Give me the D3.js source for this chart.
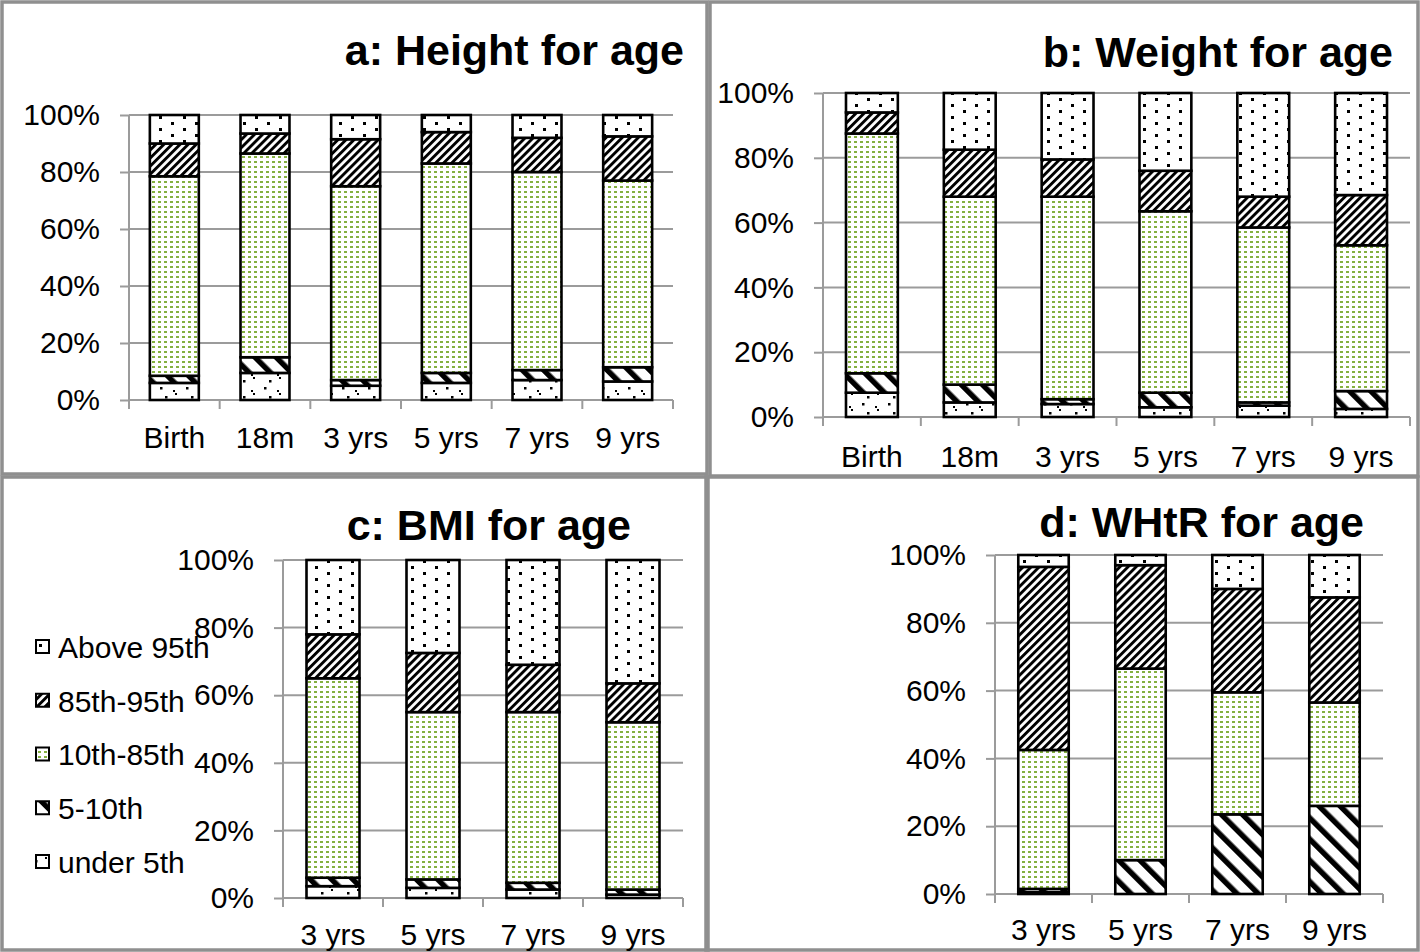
<!DOCTYPE html>
<html><head><meta charset="utf-8">
<script src="https://cdn.jsdelivr.net/npm/d3@7"></script>
<style>body{margin:0;background:#fff}svg{display:block}text{font-family:"Liberation Sans",Arial,sans-serif;fill:#000}</style>
</head><body><svg id="chart" width="1420" height="952"></svg>
<script>
// ---------- DATA ----------
const seriesNames = ["under 5th","5-10th","10th-85th","85th-95th","Above 95th"];
const legendOrder = ["Above 95th","85th-95th","10th-85th","5-10th","under 5th"];
const catsAB = ["Birth","18m","3 yrs","5 yrs","7 yrs","9 yrs"];
const catsCD = ["3 yrs","5 yrs","7 yrs","9 yrs"];
const yTickValues = [0,20,40,60,80,100];

// a: Height for age (% of children in each band, bottom to top)
const heightUnder5  = [6, 9.5, 5, 6, 7, 6.5];
const height5to10   = [2.5, 5.5, 2, 3.5, 3.5, 5];
const height10to85  = [70, 71.5, 68, 73.5, 69.5, 65.5];
const height85to95  = [11.5, 7, 16.5, 11, 12, 15.5];
const heightAbove95 = [10, 6.5, 8.5, 6, 8, 7.5];

// b: Weight for age
const weightUnder5  = [7.5, 4.5, 4, 3, 3.5, 2.5];
const weight5to10   = [6, 5.5, 1.5, 4.5, 1, 5.5];
const weight10to85  = [74, 58, 62.5, 56, 54, 45];
const weight85to95  = [6.5, 14.5, 11.5, 12.5, 9.5, 15.5];
const weightAbove95 = [6, 17.5, 20.5, 24, 32, 31.5];

// c: BMI for age
const bmiUnder5  = [3.5, 3, 2.5, 1];
const bmi5to10   = [2.5, 2.5, 2, 1.5];
const bmi10to85  = [59, 49.5, 50.5, 49.5];
const bmi85to95  = [13, 17.5, 14, 11.5];
const bmiAbove95 = [22, 27.5, 31, 36.5];

// d: WHtR for age
const whtrUnder5  = [0.5, 0, 0, 0];
const whtr5to10   = [1, 10, 23.5, 26];
const whtr10to85  = [41, 56.5, 36, 30.5];
const whtr85to95  = [54, 30.5, 30.5, 31];
const whtrAbove95 = [3.5, 3, 10, 12.5];

// ---------- DRAWING ----------
const svg = d3.select("#chart");
const defs = svg.append("defs");
const patId = {"under 5th":"pU5","5-10th":"p510","10th-85th":"p1085","85th-95th":"p8595","Above 95th":"pA95"};

// Above 95th: sparse black dots
let p = defs.append("pattern").attr("id","pA95").attr("patternUnits","userSpaceOnUse").attr("width",24).attr("height",12);
p.append("rect").attr("width",24).attr("height",12).attr("fill","#fff");
p.append("rect").attr("x",3).attr("y",2).attr("width",3).attr("height",3).attr("fill","#000");
p.append("rect").attr("x",15).attr("y",8).attr("width",3).attr("height",3).attr("fill","#000");
// 85th-95th: dense "/" hatch
p = defs.append("pattern").attr("id","p8595").attr("patternUnits","userSpaceOnUse").attr("width",5.7).attr("height",10).attr("patternTransform","rotate(45)");
p.append("rect").attr("width",5.7).attr("height",10).attr("fill","#fff");
p.append("rect").attr("width",2.9).attr("height",10).attr("fill","#000");
// 10th-85th: green dots
p = defs.append("pattern").attr("id","p1085").attr("patternUnits","userSpaceOnUse").attr("width",6).attr("height",5);
p.append("rect").attr("width",6).attr("height",5).attr("fill","#fff");
p.append("rect").attr("x",2).attr("y",1).attr("width",3).attr("height",2).attr("fill","#84b040");
// 5-10th: wide "\" stripes
p = defs.append("pattern").attr("id","p510").attr("patternUnits","userSpaceOnUse").attr("width",15).attr("height",20).attr("patternTransform","rotate(-45)");
p.append("rect").attr("width",15).attr("height",20).attr("fill","#fff");
p.append("rect").attr("width",5.5).attr("height",20).attr("fill","#000");
// under 5th: sparse marks
p = defs.append("pattern").attr("id","pU5").attr("patternUnits","userSpaceOnUse").attr("width",26).attr("height",16);
p.append("rect").attr("width",26).attr("height",16).attr("fill","#fff");
p.append("rect").attr("x",4).attr("y",3).attr("width",2.5).attr("height",2.5).attr("fill","#000");
p.append("rect").attr("x",17).attr("y",6).attr("width",2).attr("height",2).attr("fill","#000");
p.append("rect").attr("x",19).attr("y",9).attr("width",2).attr("height",2).attr("fill","#000");
p.append("rect").attr("x",9).attr("y",12).attr("width",2.5).attr("height",2.5).attr("fill","#000");

// panel frames
const frames = [[2,2,707,474],[710,2,1418,476],[2,477,708,950],[706,477,1418,950]];
frames.forEach(f => svg.append("rect").attr("x",f[0]).attr("y",f[1]).attr("width",f[2]-f[0]).attr("height",f[3]-f[1])
  .attr("fill","none").attr("stroke","#8f8f8f").attr("stroke-width",3.5));

const GRID = "#9b9b9b";

function drawPanel(cfg, cats, cols, title) {
  const g = svg.append("g");
  const rows = cats.map((c,i) => {
    const r = {cat:c};
    seriesNames.forEach((s,k) => r[s] = cols[k][i]);
    return r;
  });
  const x = d3.scaleBand().domain(cats).range([cfg.x0, cfg.x1]).paddingInner(cfg.pad).paddingOuter(cfg.pad/2);
  const y = d3.scaleLinear().domain([0,100]).range([cfg.y0, cfg.y1]);

  // gridlines
  g.selectAll("line.grid").data(yTickValues.filter(v=>v>0)).join("line")
    .attr("x1",cfg.x0).attr("x2",cfg.x1).attr("y1",d=>y(d)).attr("y2",d=>y(d))
    .attr("stroke",GRID).attr("stroke-width",2);

  // y axis
  const ya = g.append("g").attr("transform",`translate(${cfg.x0},0)`)
    .call(d3.axisLeft(y).tickValues(yTickValues).tickFormat(d=>d+"%").tickSize(9).tickPadding(20));
  ya.selectAll("line,path").attr("stroke",GRID).attr("stroke-width",2);
  ya.select("path").attr("d",`M0,${cfg.y0}V${cfg.y1}`);
  ya.selectAll("text").attr("font-size",30).attr("font-family","Liberation Sans, Arial, sans-serif").attr("fill","#000");

  // x axis
  const xa = g.append("g").attr("transform",`translate(0,${cfg.y0})`)
    .call(d3.axisBottom(x).tickSize(0).tickPadding(cfg.xpad));
  xa.select("path").attr("stroke",GRID).attr("stroke-width",2).attr("d",`M${cfg.x0},0H${cfg.x1}`);
  xa.selectAll("text").attr("font-size",30).attr("font-family","Liberation Sans, Arial, sans-serif").attr("fill","#000");
  const bounds = cats.map(c => x(c) - x.step()*x.paddingInner()/2).concat([cfg.x1]);
  g.selectAll("line.xt").data(bounds).join("line")
    .attr("x1",d=>d).attr("x2",d=>d).attr("y1",cfg.y0).attr("y2",cfg.y0+9)
    .attr("stroke",GRID).attr("stroke-width",2);

  // stacked bars
  const stack = d3.stack().keys(seriesNames)(rows);
  stack.forEach(layer => {
    g.append("g").selectAll("rect").data(layer.filter(d=>d[1]-d[0]>0)).join("rect")
      .attr("x",d=>x(d.data.cat)).attr("width",x.bandwidth())
      .attr("y",d=>y(d[1])).attr("height",d=>y(d[0])-y(d[1]))
      .attr("fill",`url(#${patId[layer.key]})`)
      .attr("stroke","#000").attr("stroke-width",2.6);
  });

  g.append("text").attr("x",cfg.tx).attr("y",cfg.ty).attr("text-anchor","end")
    .attr("font-size",43).attr("font-weight","bold").text(title);
  return g;
}

drawPanel({x0:129,x1:673,y0:400,y1:115,pad:0.46,xpad:26.5,tx:684,ty:65}, catsAB,
  [heightUnder5,height5to10,height10to85,height85to95,heightAbove95], "a: Height for age");
drawPanel({x0:823,x1:1410,y0:417,y1:93,pad:0.47,xpad:28.5,tx:1393,ty:67}, catsAB,
  [weightUnder5,weight5to10,weight10to85,weight85to95,weightAbove95], "b: Weight for age");
drawPanel({x0:283,x1:683,y0:898,y1:560,pad:0.47,xpad:25.5,tx:631,ty:540}, catsCD,
  [bmiUnder5,bmi5to10,bmi10to85,bmi85to95,bmiAbove95], "c: BMI for age");
drawPanel({x0:995,x1:1383,y0:894,y1:555,pad:0.48,xpad:24.5,tx:1364,ty:537}, catsCD,
  [whtrUnder5,whtr5to10,whtr10to85,whtr85to95,whtrAbove95], "d: WHtR for age");

// legend (inside panel c, overlapping the axis labels as in the original)
const lg = svg.append("g");
const ly = d3.scalePoint().domain(legendOrder).range([647, 862]);
legendOrder.forEach(name => {
  lg.append("rect").attr("x",36).attr("y",ly(name)-7).attr("width",13).attr("height",13)
    .attr("fill",`url(#${patId[name]})`).attr("stroke","#000").attr("stroke-width",2);
  lg.append("text").attr("x",58).attr("y",ly(name)).attr("dy","0.36em").attr("font-size",30).text(name);
});
</script></body></html>
